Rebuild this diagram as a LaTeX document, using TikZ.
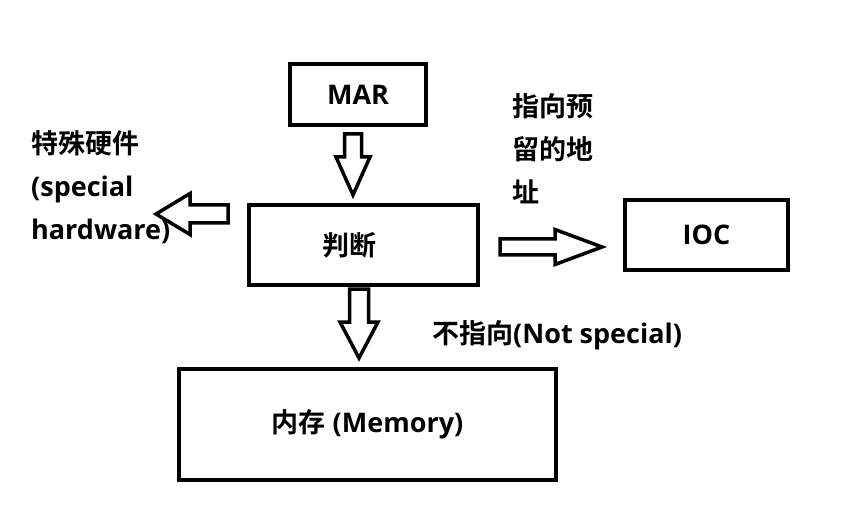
\documentclass[tikz,border=0pt]{standalone}
\usepackage{fontspec}
\setmainfont{Open Sans}
\newfontfamily\cjk[BoldFont={Noto Sans CJK SC Bold}]{Noto Sans CJK SC}
\usetikzlibrary{positioning, calc}
\tikzset{
  box/.style={draw, line width=4pt, inner sep=0pt},
  txt/.style={font=\bfseries\fontsize{27}{43}\selectfont},
  note/.style={txt, align=left, inner sep=0pt},
  hollow arrow/.style n args={3}{draw, line width=3.5pt, line join=miter,
    to path={
      ($(\tikztotarget)!#3!(\tikztostart)$) coordinate (hb)
      ($(\tikztostart)!#1!90:(\tikztotarget)$) -- ($(hb)!#1!90:(\tikztotarget)$)
      -- ($(hb)!#2!90:(\tikztotarget)$) -- (\tikztotarget)
      -- ($(hb)!#2!-90:(\tikztotarget)$) -- ($(hb)!#1!-90:(\tikztotarget)$)
      -- ($(\tikztostart)!#1!-90:(\tikztotarget)$) -- cycle}},
}
\begin{document}
\begin{tikzpicture}[x=1pt, y=-1pt]
  \useasboundingbox (0,0) rectangle (847,532);
  % boxes
  \node[box, txt, minimum width=136pt, minimum height=61pt] (mar) at (358,94.5) {MAR};
  \node[box, minimum width=229pt, minimum height=80pt,
        label={[txt, xshift=-14pt]center:{\cjk 判断}}] (judge) at (363.5,245) {};
  \node[box, txt, minimum width=163pt, minimum height=70pt] (ioc) at (706.5,235) {IOC};
  \node[box, txt, minimum width=377pt, minimum height=111pt] (mem) at (367.5,424.5) {{\cjk 内存} (Memory)};

  % notes
  \node[note, anchor=west] (hw) at (31,187) {{\cjk 特殊硬件}\\(special\\hardware)};
  \node[note, anchor=west] (resv) at (512,149) {{\cjk 指向预}\\{\cjk 留的地}\\{\cjk 址}};
  \node[txt, anchor=west, inner sep=0pt] (nots) at (432,335) {{\cjk 不指向}(Not special)};

  % hollow arrows
  \draw[hollow arrow={8.5pt}{17pt}{38pt}] ([xshift=-5pt,yshift=-7pt]mar.south) to ([xshift=-10.5pt,yshift=8pt]judge.north);
  \draw[hollow arrow={9.5pt}{19pt}{36pt}] ([xshift=-4.5pt,yshift=-2pt]judge.south) to ([xshift=-8.5pt,yshift=9pt]mem.north);
  \draw[hollow arrow={9pt}{20.5pt}{34pt}] ([xshift=-19pt,yshift=31pt]judge.west) to ([xshift=-91pt,yshift=31pt]judge.west);
  \draw[hollow arrow={8pt}{17.5pt}{47pt}] ([xshift=20pt,yshift=-2pt]judge.east) to ([xshift=-21pt,yshift=-12pt]ioc.west);
\end{tikzpicture}
\end{document}
